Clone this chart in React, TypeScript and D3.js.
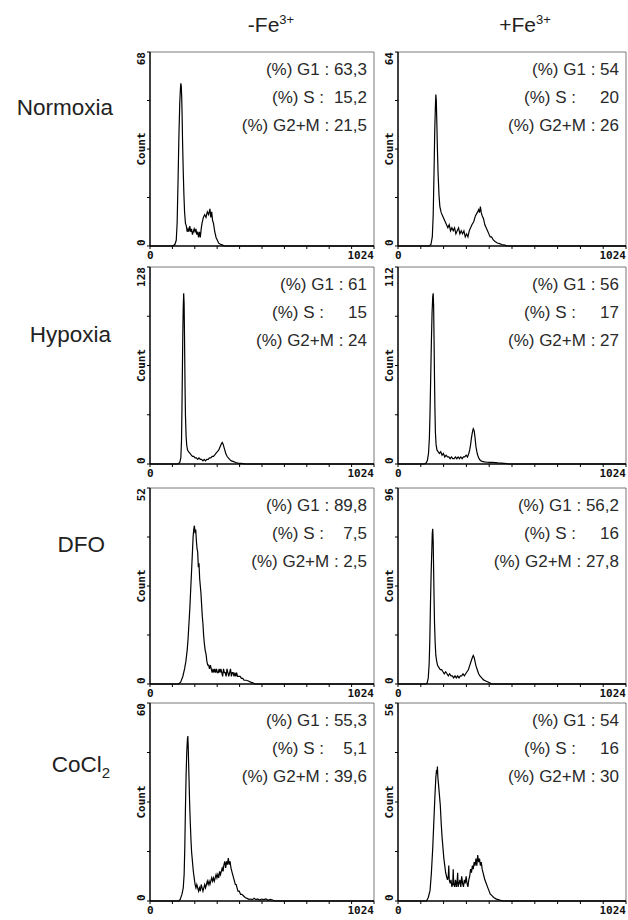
import React from "react";
import { scaleLinear, line, range } from "d3";

// Cell cycle DNA histograms, 4 conditions x 2 iron treatments
const rowNames = ["Normoxia", "Hypoxia", "DFO", "CoCl"];
const colNames = ["-Fe", "+Fe"];
const yMax = [[68, 64], [128, 112], [52, 96], [60, 56]];

const g1Values = [["63,3", "54"], ["61", "56"], ["89,8", "56,2"], ["55,3", "54"]];
const sValues = [["15,2", "20"], ["15", "17"], ["7,5", "16"], ["5,1", "16"]];
const g2mValues = [["21,5", "26"], ["24", "27"], ["2,5", "27,8"], ["39,6", "30"]];

// [channel, count]
const normoxiaMinus = [[0,0],[105,0],[114,0.6],[120,2],[124,8],[128,22],[132,38],[136,50],[139,55],[141,57],[143,56],[145,52],[147,45],[149,36],[152,26],[155,18],[158,12],[162,8],[166,7],[170,5],[174,6],[178,5],[182,7],[186,5],[190,6],[194,4],[198,5],[202,6],[206,5],[210,6],[214,4],[218,5],[222,3],[226,5],[230,3],[234,6],[238,8],[244,10],[250,11],[256,10],[262,12],[268,11],[274,13],[278,10],[282,12],[286,9],[290,8],[296,5],[302,3],[308,2],[314,1],[322,0.6],[330,0.4],[340,0],[1024,0]];
const normoxiaPlus = [[0,0],[140,0],[148,0.5],[154,3],[158,10],[162,25],[165,38],[168,46],[170,50],[172,48],[174,42],[177,32],[180,24],[184,17],[188,13],[194,11],[200,10],[206,9],[212,8],[218,7],[224,6],[230,7],[236,5],[242,6],[248,5],[254,6],[260,4],[266,5],[272,6],[278,4],[284,5],[290,4],[296,5],[302,3],[308,4],[314,3],[320,5],[326,6],[332,7],[340,8],[348,10],[356,11],[362,12],[366,11],[370,13],[374,11],[378,10],[384,9],[390,7],[396,6],[402,5],[408,4],[414,3],[420,3],[428,2],[436,1.5],[446,1],[456,0.8],[466,0.5],[480,0.3],[490,0],[1024,0]];
const hypoxiaMinus = [[0,0],[128,0],[136,1],[141,4],[144,15],[146,35],[148,60],[150,85],[152,102],[154,111],[156,104],[158,80],[160,52],[162,32],[165,18],[168,12],[172,9],[176,8],[182,7],[188,6],[194,5],[200,5],[206,4],[212,4],[218,3],[224,4],[230,3],[236,3],[242,2],[248,3],[254,2],[260,3],[266,3],[272,4],[278,4],[284,5],[290,5],[296,6],[302,7],[308,8],[314,9],[320,11],[326,13],[330,14],[334,13],[338,11],[342,9],[346,7],[352,5],[358,4],[364,3],[372,2],[382,1.5],[392,1],[402,0.6],[414,0.4],[426,0.2],[436,0],[1024,0]];
const hypoxiaPlus = [[0,0],[118,0],[126,0.6],[132,2],[137,6],[141,15],[144,30],[147,50],[150,70],[153,86],[156,95],[158,97],[160,90],[162,70],[164,48],[166,30],[168,18],[171,11],[175,8],[180,7],[186,6],[192,7],[198,5],[204,6],[210,4],[216,5],[222,4],[228,4],[234,3],[240,4],[246,3],[252,3],[258,4],[264,3],[270,4],[276,3],[282,4],[288,3],[294,4],[300,4],[306,5],[312,4],[318,6],[322,8],[326,11],[330,15],[334,18],[338,20],[342,19],[346,15],[350,10],[354,7],[358,5],[364,3],[370,2],[378,1.5],[388,1.2],[400,1],[412,0.9],[424,1],[436,0.8],[450,0.6],[464,0.5],[476,0.4],[488,0.3],[494,0],[1024,0]];
const dfoMinus = [[0,0],[130,0],[140,0.5],[150,2],[158,4],[164,6],[170,9],[174,12],[178,16],[182,20],[186,25],[190,30],[194,35],[197,39],[200,41],[203,42],[206,40],[209,41],[212,38],[215,36],[218,35],[221,31],[224,32],[227,28],[230,26],[233,24],[236,21],[239,18],[242,16],[245,13],[248,11],[252,9],[256,8],[260,6],[264,5],[268,5],[272,4],[276,5],[280,4],[284,3],[288,4],[292,3],[296,4],[300,3],[304,4],[308,3],[312,3],[316,4],[320,3],[324,4],[328,3],[332,2],[336,4],[340,3],[344,3],[348,2],[352,4],[356,3],[360,2],[364,3],[368,4],[372,2],[376,3],[380,3],[384,2],[388,3],[392,2],[396,3],[400,2],[406,2],[412,2],[418,1.5],[424,1.5],[430,1],[440,1],[450,0.8],[460,0.5],[470,0.3],[480,0],[1024,0]];
const dfoPlus = [[0,0],[125,0],[131,0.5],[136,3],[140,10],[143,22],[146,40],[149,55],[152,66],[154,74],[156,76],[158,70],[160,56],[162,42],[164,30],[167,20],[170,14],[174,11],[178,9],[184,8],[190,7],[196,7],[202,6],[208,5],[214,6],[220,5],[226,4],[232,5],[238,4],[244,4],[250,3],[256,4],[262,3],[268,4],[274,3],[280,4],[286,4],[292,5],[298,4],[304,5],[310,6],[316,7],[322,9],[328,11],[334,13],[338,14],[342,13],[346,11],[350,9],[356,7],[362,5],[368,4],[376,3],[384,2],[394,1.5],[404,1],[414,0.5],[420,0],[1024,0]];
const cocl2Minus = [[0,0],[130,0],[138,0.5],[146,2],[152,4],[156,8],[159,16],[162,28],[165,38],[168,45],[171,49],[173,50],[175,46],[178,38],[181,30],[184,24],[187,19],[190,15],[194,12],[198,9],[202,7],[206,5],[210,4],[214,5],[218,4],[222,3],[226,4],[230,3],[234,5],[238,4],[242,3],[246,4],[250,5],[254,4],[258,5],[262,6],[266,5],[270,6],[274,5],[278,6],[282,7],[286,6],[290,7],[294,6],[298,7],[302,8],[306,7],[310,8],[314,7],[318,9],[322,8],[326,9],[330,10],[334,9],[338,11],[342,12],[346,10],[350,12],[354,11],[358,13],[362,11],[366,12],[370,10],[374,9],[378,8],[382,7],[386,6],[390,5],[394,5],[398,4],[402,3],[408,3],[414,2],[420,2],[428,1.5],[436,1],[444,0.8],[452,0.5],[460,0.6],[468,0.4],[476,0.8],[484,0.4],[492,0.6],[500,0.3],[510,0.6],[520,0.4],[530,0.6],[540,0.2],[550,0.5],[560,0.3],[570,0],[1024,0]];
const cocl2Plus = [[0,0],[128,0],[136,1],[144,3],[150,8],[156,15],[162,24],[166,30],[170,35],[173,37],[175,36],[177,38],[179,35],[182,33],[186,30],[190,27],[194,22],[198,18],[202,15],[206,12],[210,10],[214,8],[218,7],[222,6],[226,7],[228,10],[230,6],[234,5],[238,6],[242,4],[246,5],[248,9],[250,5],[254,4],[258,6],[262,4],[266,6],[268,8],[270,4],[274,5],[278,6],[282,4],[286,7],[290,5],[294,4],[298,6],[302,5],[306,7],[310,5],[314,4],[318,6],[322,7],[326,9],[330,8],[334,10],[338,9],[342,11],[346,10],[350,12],[354,10],[358,13],[362,11],[366,12],[370,10],[374,11],[378,9],[382,8],[386,7],[390,6],[396,5],[402,4],[408,3],[414,2],[422,1.5],[430,1],[440,0.6],[450,0.4],[460,0.2],[470,0],[1024,0]];

const histograms = [
  [normoxiaMinus, normoxiaPlus],
  [hypoxiaMinus, hypoxiaPlus],
  [dfoMinus, dfoPlus],
  [cocl2Minus, cocl2Plus],
];

const width = 628;
const height = 920;
const colX = [[150, 374], [398, 626]];
const rowY = [[52, 246], [267, 464], [488, 684], [703, 901]];
const rowLabelX = [113, 111, 105, 110];
const rowLabelY = [115, 342, 552, 772];
const headerX = [271, 525];

const textFont = "'Liberation Sans', Arial, sans-serif";
const monoFont = "'DejaVu Sans Mono', monospace";

function Panel({ row, col }: { row: number; col: number }) {
  const [x0, x1] = colX[col];
  const [y0, y1] = rowY[row];
  const max = yMax[row][col];
  const x = scaleLinear().domain([0, 1024]).range([x0, x1]);
  const y = scaleLinear().domain([0, max]).range([y1, y0]);
  const path = line<number[]>().x(d => x(d[0])).y(d => y(d[1]))(histograms[row][col]);
  const xTicks = range(11).map(i => (i * 1024) / 10);
  const yTicks = range(5).map(i => (i * max) / 4);
  const right = x1 - 7;
  const midY = (y0 + y1) / 2;
  const lab = x0 - 5;

  return (
    <g>
      {/* thin frame on top/right */}
      <path d={`M${x0},${y0}H${x1}V${y1}`} fill="none" stroke="#555" strokeWidth={0.8} />
      <line x1={x0} x2={x0} y1={y0} y2={y1} stroke="#000" strokeWidth={1.5} />
      <line x1={x0} x2={x1} y1={y1} y2={y1} stroke="#000" strokeWidth={1.5} />
      {xTicks.map((t, i) => (
        <line key={"xt" + i} x1={x(t)} x2={x(t)} y1={y1} y2={y1 + 3} stroke="#000" strokeWidth={1} />
      ))}
      {yTicks.map((t, i) => (
        <line key={"yt" + i} x1={x0 - 3} x2={x0} y1={y(t)} y2={y(t)} stroke="#000" strokeWidth={1} />
      ))}
      <path d={path || ""} fill="none" stroke="#000" strokeWidth={1.2} />

      <g fontFamily={monoFont} fontWeight="bold" fontSize={11} fill="#111">
        <text transform={`translate(${lab},${y1}) rotate(-90)`} textAnchor="start">0</text>
        <text transform={`translate(${lab},${y0}) rotate(-90)`} textAnchor="end">{max}</text>
        <text transform={`translate(${lab},${midY}) rotate(-90)`} textAnchor="middle">Count</text>
        <text x={x0 - 3} y={y1 + 13}>0</text>
        <text x={x1} y={y1 + 13} textAnchor="end">1024</text>
      </g>

      <g fontFamily={textFont} fontSize={17} fill="#2a2a2a" textAnchor="end">
        <text x={right} y={y0 + 23} style={{ whiteSpace: "pre" }}>{`(%) G1 : ${g1Values[row][col]}`}</text>
        <text x={right - 43} y={y0 + 51} style={{ whiteSpace: "pre" }}>{"(%) S :"}</text>
        <text x={right} y={y0 + 51}>{sValues[row][col]}</text>
        <text x={right} y={y0 + 79} style={{ whiteSpace: "pre" }}>{`(%) G2+M : ${g2mValues[row][col]}`}</text>
      </g>
    </g>
  );
}

export default function App() {
  return (
    <svg width={width} height={height} style={{ position: "absolute", left: 0, top: 0, background: "#fff" }}>
      <rect width={width} height={height} fill="#fff" />
      {colNames.map((c, i) => (
        <text key={c} x={headerX[i]} y={32} fontFamily={textFont} fontSize={21} textAnchor="middle" fill="#222">
          {c}
          <tspan dy={-8} fontSize={13}>3+</tspan>
        </text>
      ))}
      {rowNames.map((r, i) => (
        <text key={r} x={rowLabelX[i]} y={rowLabelY[i]} fontFamily={textFont} fontSize={22.5} textAnchor="end" fill="#222">
          {r}
          {i === 3 && <tspan dy={6} fontSize={15}>2</tspan>}
        </text>
      ))}
      {rowNames.map((r, ri) =>
        colNames.map((c, ci) => <Panel key={r + c} row={ri} col={ci} />)
      )}
    </svg>
  );
}
